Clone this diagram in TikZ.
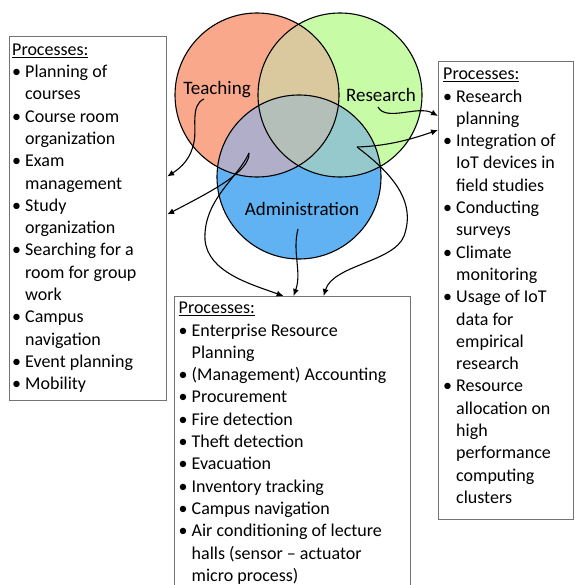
\documentclass[tikz,border=0pt]{standalone}
\usepackage{fontspec}
\setmainfont{Carlito}
\usepackage{tikz}
\usetikzlibrary{arrows.meta}
\usetikzlibrary{positioning}

\definecolor{teachred}{HTML}{F9A88B}
\definecolor{resgreen}{HTML}{C8FBA6}
\definecolor{adminblue}{HTML}{61B2F2}
\definecolor{trmix}{HTML}{DAC89F}
\definecolor{tamix}{HTML}{B0AEC8}
\definecolor{ramix}{HTML}{96C9CB}
\definecolor{allmix}{HTML}{B4BFB9}

\newcommand{\pbul}{\makebox[13pt][l]{\textbullet}}
\newcommand{\pind}{\hspace*{13pt}}

\begin{document}
\begin{tikzpicture}[x=1pt,y=-1pt,
		venn/.style={circle, draw, line width=1.1pt, minimum size=164pt, inner sep=0pt},
		lbl/.style={font=\fontsize{19}{22}\selectfont},
		procbox/.style={draw=black!55, line width=1.2pt, inner sep=0pt, anchor=north west},
		proclist/.style={align=left, inner sep=0pt, anchor=north west, font=\fontsize{18}{22.3}\selectfont},
		flow/.style={->, >={Latex[length=7pt,width=6pt]}, line width=1.1pt}]
	
	\clip (0,0) rectangle (574,585);
	\fill[white] (0,0) rectangle (574,585);
	
	\coordinate (tc) at (257,95);
	\coordinate (rc) at (340,95);
	\coordinate (ac) at (299,177);
	
	% circles and their overlaps
	\fill[teachred] (tc) circle (82pt);
	\fill[resgreen] (rc) circle (82pt);
	\fill[adminblue] (ac) circle (82pt);
	\begin{scope}
		\clip (rc) circle (82pt);
		\fill[ramix] (ac) circle (82pt);
	\end{scope}
	\begin{scope}
		\clip (tc) circle (82pt);
		\fill[trmix] (rc) circle (82pt);
		\fill[tamix] (ac) circle (82pt);
		\clip (rc) circle (82pt);
		\fill[allmix] (ac) circle (82pt);
	\end{scope}
	
	\node[venn] (teach) at (tc) {};
	\node[venn] (res) at (rc) {};
	\node[venn] (admin) at (ac) {};
	
	\node[lbl] (teachlbl) at (217,90) {Teaching};
	\node[lbl] (reslbl) at (381,95) {Research};
	\node[lbl] (adminlbl) at (302,209) {Administration};
	
	% process lists
	\node[procbox, minimum width=157pt, minimum height=364pt] (teachbox) at (9,36) {};
	\node[procbox, minimum width=135pt, minimum height=458pt] (resbox) at (438,61) {};
	\node[procbox, minimum width=236pt, minimum height=320pt] (adminbox) at (174,296) {};
	
	\node[proclist] (teachlist) at ([xshift=3pt,yshift=-3.4pt]teachbox.north west) {\strut\underline{Processes:}\\
		\pbul Planning of\\\pind courses\\
		\pbul Course room\\\pind organization\\
		\pbul Exam\\\pind management\\
		\pbul Study\\\pind organization\\
		\pbul Searching for a\\\pind room for group\\\pind work\\
		\pbul Campus\\\pind navigation\\
		\pbul Event planning\\
		\pbul Mobility};
	
	\node[proclist] (reslist) at ([xshift=5pt,yshift=-2.9pt]resbox.north west) {\strut\underline{Processes:}\\
		\pbul Research\\\pind planning\\
		\pbul Integration of\\\pind IoT devices in\\\pind field studies\\
		\pbul Conducting\\\pind surveys\\
		\pbul Climate\\\pind monitoring\\
		\pbul Usage of IoT\\\pind data for\\\pind empirical\\\pind research\\
		\pbul Resource\\\pind allocation on\\\pind high\\\pind performance\\\pind computing\\\pind clusters};
	
	\node[proclist] (adminlist) at ([xshift=4.5pt,yshift=-1.9pt]adminbox.north west) {\strut\underline{Processes:}\\
		\pbul Enterprise Resource\\\pind Planning\\
		\pbul (Management) Accounting\\
		\pbul Procurement\\
		\pbul Fire detection\\
		\pbul Theft detection\\
		\pbul Evacuation\\
		\pbul Inventory tracking\\
		\pbul Campus navigation\\
		\pbul Air conditioning of lecture\\\pind halls (sensor -- actuator\\\pind micro process)};
	
	% arrows from the circles to the lists
	\coordinate (tstart) at (204,99);
	\coordinate (tastart) at (249,153);
	\coordinate (astart) at (298,229);
	\coordinate (rastart) at (357,147);
	\coordinate (rstart) at (378,107);
	
	\draw[flow] (tstart) .. controls (190,105) and (197,128) .. (194,142) .. controls (191,158) and (182,167) .. (teachbox.28);
	\draw[flow] (tastart) .. controls (250,172) and (210,192) .. (teachbox.3);
	\draw[flow] (tastart) .. controls (238,178) and (203,200) .. (205,240) .. controls (208,272) and (250,284) .. ([xshift=-9pt]adminbox.north);
	\draw[flow] (astart) .. controls (292,252) and (302,272) .. ([xshift=1pt]adminbox.north);
	\draw[flow] (rastart) .. controls (390,172) and (417,200) .. (404,236) .. controls (394,262) and (333,265) .. ([xshift=31pt]adminbox.north);
	\draw[flow] (rastart) .. controls (390,146) and (415,138) .. ([yshift=-69pt]resbox.north west);
	\draw[flow] (rstart) .. controls (386,122) and (418,105) .. ([yshift=-55pt]resbox.north west);
	
\end{tikzpicture}
\end{document}
